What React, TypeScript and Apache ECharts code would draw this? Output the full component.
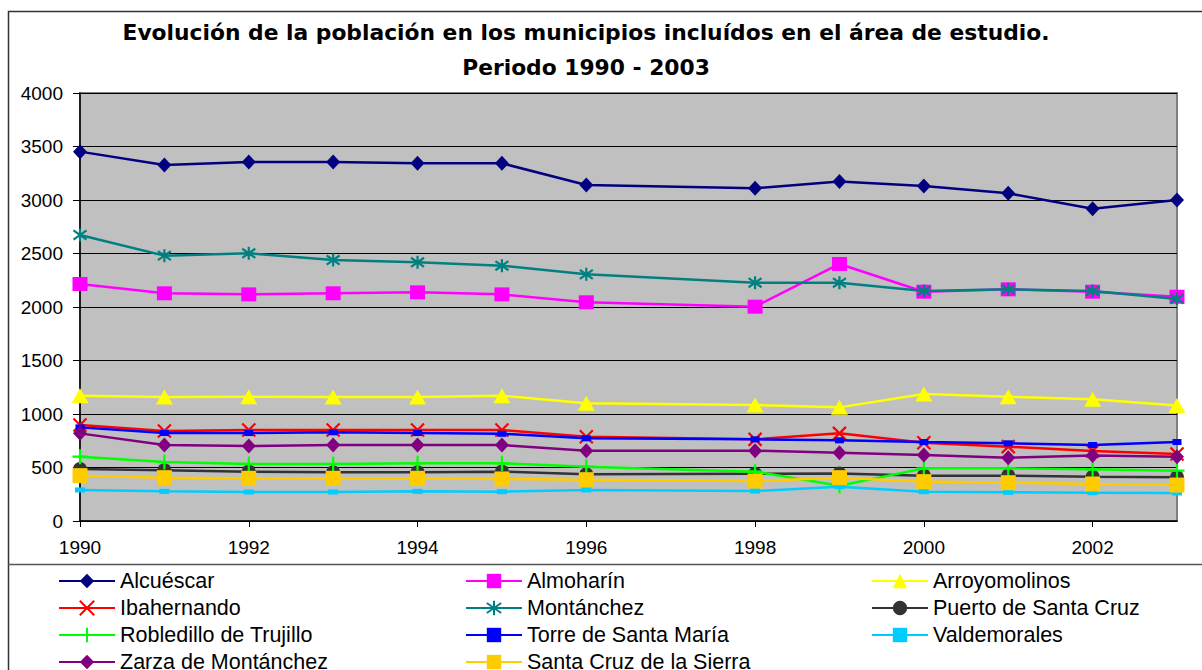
import React, { useEffect, useRef } from "react";
import * as echarts from "echarts";

const years = ["1990","1991","1992","1993","1994","1995","1996","1997","1998","1999","2000","2001","2002","2003"];
const yTicks = { min: 0, max: 4000, interval: 500 };

const alcuescar = [3452, 3327, 3355, 3355, 3343, 3343, 3140, null, 3109, 3174, 3131, 3062, 2919, 3000];
const almoharin = [2215, 2128, 2118, 2128, 2137, 2118, 2044, null, 2003, 2402, 2143, 2165, 2143, 2096];
const arroyomolinos = [1171, 1158, 1162, 1158, 1158, 1171, 1100, null, 1084, 1062, 1187, 1162, 1137, 1080];
const ibahernando = [897, 841, 850, 850, 850, 850, 788, null, 763, 819, 732, 695, 654, 626];
const montanchez = [2673, 2480, 2502, 2439, 2418, 2386, 2305, null, 2227, 2227, 2150, 2165, 2150, 2075];
const puerto = [486, 474, 461, 455, 455, 461, 436, null, 442, 443, 424, 424, 414, 408];
const robledillo = [601, 551, 533, 533, 539, 539, 508, null, 461, 330, 492, 492, 483, 470];
const torre = [875, 822, 822, 829, 822, 815, 773, null, 763, 754, 738, 726, 710, 738];
const valdemorales = [290, 277, 271, 271, 277, 274, 290, null, 280, 321, 274, 268, 265, 262];
const zarza = [819, 710, 701, 710, 710, 710, 657, null, 657, 639, 617, 592, 611, 601];
const santaCruz = [424, 405, 399, 399, 399, 393, 386, null, 374, 405, 368, 358, 346, 336];

const seriesNames = [
  "Alcuéscar", "Almoharín", "Arroyomolinos",
  "Ibahernando", "Montánchez", "Puerto de Santa Cruz",
  "Robledillo de Trujillo", "Torre de Santa María", "Valdemorales",
  "Zarza de Montánchez", "Santa Cruz de la Sierra",
];
const seriesData = [alcuescar, almoharin, arroyomolinos, ibahernando, montanchez, puerto, robledillo, torre, valdemorales, zarza, santaCruz];
const seriesColors = ["#000080", "#FF00FF", "#FFFF00", "#FF0000", "#008080", "#333333", "#00FF00", "#0000FF", "#00CCFF", "#800080", "#FFCC00"];

const X_PATH = "path://M0,0L10,10M10,0L0,10";
const STAR_PATH = "path://M5,0L5,10M0.5,1.5L9.5,8.5M9.5,1.5L0.5,8.5";
const PLUS_PATH = "path://M5,0L5,10M0,5L10,5";

const markerStyles: any[] = [
  { symbol: "diamond", symbolSize: [14, 15] },
  { symbol: "rect", symbolSize: [15, 14] },
  { symbol: "triangle", symbolSize: [17, 15] },
  { symbol: X_PATH, symbolSize: 13, stroke: true },
  { symbol: STAR_PATH, symbolSize: 13, stroke: true },
  { symbol: "circle", symbolSize: 14 },
  { symbol: PLUS_PATH, symbolSize: 15, stroke: true },
  { symbol: "rect", symbolSize: [9, 6] },
  { symbol: "rect", symbolSize: [10, 5] },
  { symbol: "diamond", symbolSize: [14, 15] },
  { symbol: "rect", symbolSize: [15, 15] },
];

const legendCols = [
  [seriesNames[0], seriesNames[3], seriesNames[6], seriesNames[9]],
  [seriesNames[1], seriesNames[4], seriesNames[7], seriesNames[10]],
  [seriesNames[2], seriesNames[5], seriesNames[8]],
];
const legendLefts = [58, 465, 871];

export default function App() {
  const ref = useRef<HTMLDivElement>(null);
  useEffect(() => {
    if (!ref.current) return;
    const chart = echarts.init(ref.current, null, { renderer: "svg" });
    const series = seriesNames.map((name, i) => {
      const m = markerStyles[i];
      return {
        name,
        type: "line",
        data: seriesData[i],
        connectNulls: true,
        symbol: m.symbol,
        symbolSize: m.symbolSize,
        showAllSymbol: true,
        lineStyle: { color: seriesColors[i], width: 2.5 },
        itemStyle: m.stroke
          ? { color: seriesColors[i], borderColor: seriesColors[i], borderWidth: 2.2 }
          : { color: seriesColors[i], borderWidth: 0 },
        emphasis: { disabled: true },
        z: 2 + i,
      };
    });
    const option: any = {
      animation: false,
      backgroundColor: "#FFFFFF",
      textStyle: { fontFamily: "Liberation Sans" },
      grid: {
        left: 80, top: 93, width: 1097, height: 428,
        show: true, backgroundColor: "#C0C0C0", borderColor: "#808080", borderWidth: 2,
      },
      xAxis: {
        type: "category",
        data: years,
        boundaryGap: false,
        axisLine: { lineStyle: { color: "#000", width: 1.5 } },
        axisTick: { show: true, interval: 1, length: 6, lineStyle: { color: "#000" } },
        axisLabel: { interval: 1, color: "#000", fontSize: 19, margin: 17, fontFamily: "Liberation Sans" },
        splitLine: { show: false },
      },
      yAxis: {
        type: "value",
        min: yTicks.min, max: yTicks.max, interval: yTicks.interval,
        axisLine: { show: true, lineStyle: { color: "#000", width: 1.5 } },
        axisTick: { show: true, length: 7, lineStyle: { color: "#000" } },
        axisLabel: { color: "#000", fontSize: 19, margin: 17, fontFamily: "Liberation Sans", formatter: (v: number) => String(v) },
        splitLine: { show: true, lineStyle: { color: "#000", width: 1 } },
      },
      legend: legendCols.map((col, ci) => ({
        data: col,
        orient: "vertical",
        left: legendLefts[ci],
        top: 570,
        height: 200,
        padding: 0,
        itemWidth: 56,
        itemHeight: 18,
        itemGap: 5,
        selectedMode: false,
        textStyle: { color: "#000", fontSize: 21.5, lineHeight: 21.5, fontFamily: "Liberation Sans" },
      })),
      graphic: [
        { type: "rect", shape: { x: 8.5, y: 11.5, width: 1300, height: 1000 }, style: { fill: "none", stroke: "#333", lineWidth: 1.5 }, silent: true, z: 0 },
        { type: "line", shape: { x1: 8, y1: 564.5, x2: 1202, y2: 564.5 }, style: { stroke: "#555", lineWidth: 1.5 }, silent: true },
        { type: "text", x: 586, y: 32, style: { text: "Evolución de la población en los municipios incluídos en el área de estudio.", textAlign: "center", textVerticalAlign: "middle", font: "bold 21.8px 'DejaVu Sans'", fill: "#000" }, silent: true },
        { type: "text", x: 586, y: 67, style: { text: "Periodo 1990 - 2003", textAlign: "center", textVerticalAlign: "middle", font: "bold 21.8px 'DejaVu Sans'", fill: "#000" }, silent: true },
      ],
      series,
    };
    chart.setOption(option);
    return () => chart.dispose();
  }, []);
  return <div ref={ref} style={{ position: "absolute", left: 0, top: 0, width: 1202, height: 670 }} />;
}
